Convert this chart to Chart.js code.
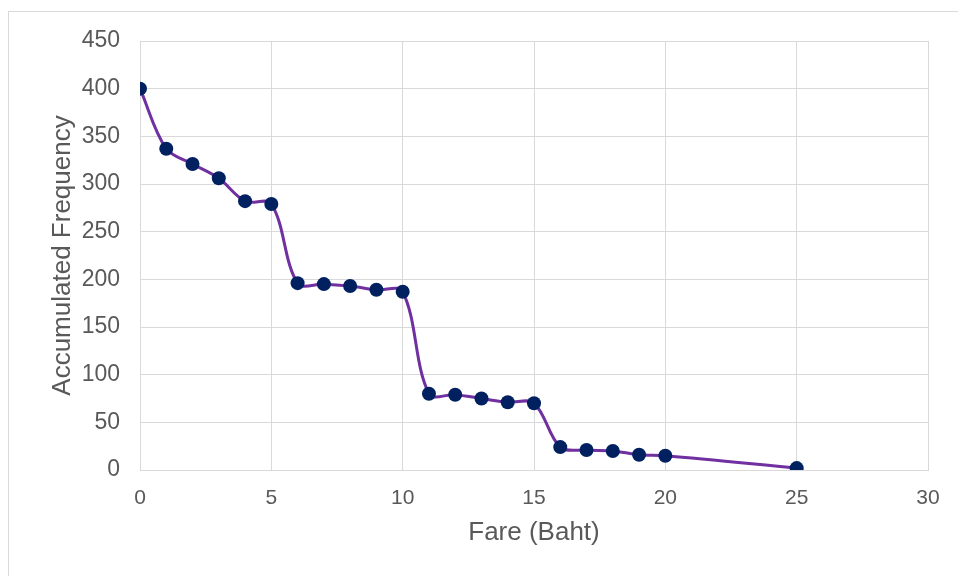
<!DOCTYPE html>
<html>
<head>
<meta charset="utf-8">
<title>Accumulated Frequency by Fare</title>
<script src="https://cdn.jsdelivr.net/npm/chart.js@4/dist/chart.umd.min.js"></script>
<style>
  html, body { margin: 0; padding: 0; background: #fff; }
  #wrap { position: relative; width: 958px; height: 576px; overflow: hidden; }
  #frame { position: absolute; left: 8px; top: 11px; width: 1200px; height: 800px; border: 1px solid #d9d9d9; }
  #fareChart { position: absolute; left: 0; top: 0; }
</style>
</head>
<body>
<div id="wrap">
  <div id="frame"></div>
  <canvas id="fareChart" width="958" height="576"></canvas>
</div>
<script>
/* fare (baht) vs accumulated frequency */
const fares = [0, 1, 2, 3, 4, 5, 6, 7, 8, 9, 10, 11, 12, 13, 14, 15, 16, 17, 18, 19, 20, 25];
const accFreq = [400, 337, 321, 306, 282, 279, 196, 195, 193, 189, 187, 80, 79, 75, 71, 70, 24, 21, 20, 16, 15, 2];

const X_TITLE = 'Fare (Baht)';
const Y_TITLE = 'Accumulated Frequency';

const FONT = 'Liberation Sans, Arial, sans-serif';
const GRID = '#d9d9d9';
const TEXT = '#595959';

const ctx = document.getElementById('fareChart');
new Chart(ctx, {
  type: 'line',
  data: {
    datasets: [{
      data: fares.map((f, i) => ({ x: f, y: accFreq[i] })),
      borderColor: '#7030a0',
      borderWidth: 3,
      backgroundColor: '#002060',
      pointBackgroundColor: '#002060',
      pointBorderColor: '#002060',
      pointRadius: 7,
      pointBorderWidth: 0,
      tension: 0.35,
      fill: false,
    }]
  },
  options: {
    responsive: false,
    animation: false,
    layout: { padding: { left: 0, right: 30, top: 41, bottom: 28 } },
    plugins: { legend: { display: false }, tooltip: { enabled: false } },
    scales: {
      x: {
        type: 'linear', min: 0, max: 30,
        ticks: { stepSize: 5, color: TEXT, font: { family: FONT, size: 21 }, padding: 16 },
        grid: { color: GRID, lineWidth: 1, drawTicks: false },
        border: { color: GRID },
        title: { display: true, text: X_TITLE, color: TEXT, font: { family: FONT, size: 26 }, padding: { top: 0, bottom: 0 } },
        afterFit: s => { s.height = 78; }
      },
      y: {
        min: 0, max: 450,
        ticks: { stepSize: 50, color: TEXT, font: { family: FONT, size: 23 }, padding: 20 },
        grid: { color: GRID, lineWidth: 1, drawTicks: false },
        border: { color: GRID },
        title: { display: true, text: Y_TITLE, color: TEXT, font: { family: FONT, size: 26 }, padding: { top: 47, bottom: 0 } },
        afterFit: s => { s.width = 140; }
      }
    }
  }
});
</script>
</body>
</html>
